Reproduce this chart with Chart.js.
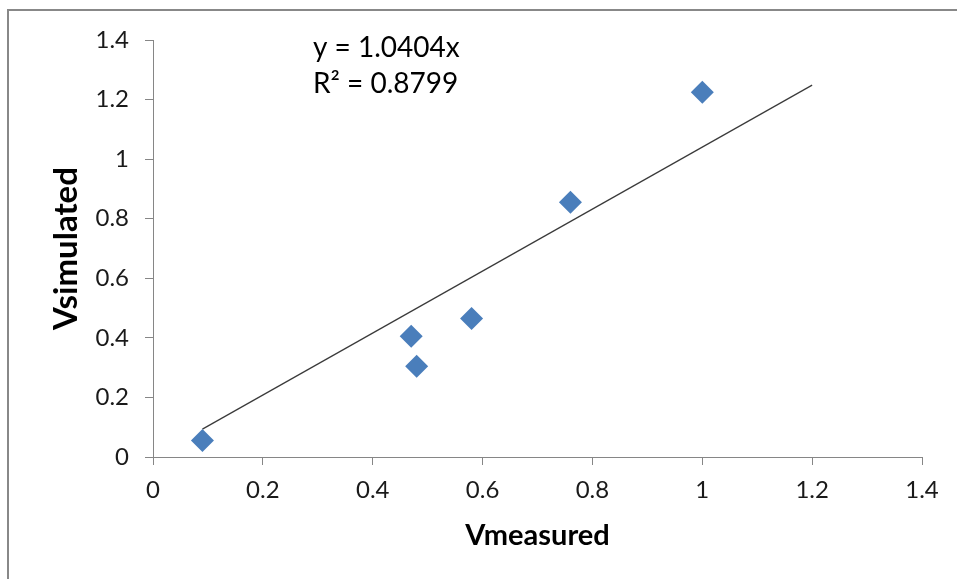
<!DOCTYPE html>
<html>
<head>
<meta charset="utf-8">
<script src="https://cdn.jsdelivr.net/npm/chart.js@4"></script>
<style>
  html, body { margin: 0; padding: 0; background: #fff; }
  #wrap { position: relative; width: 957px; height: 579px; }
  #frame { position: absolute; left: 7px; top: 9px; width: 960px; height: 580px;
           border-left: 2px solid #888; border-top: 2px solid #888; }
  canvas { position: absolute; left: 0; top: 0; }
</style>
</head>
<body>
<div id="wrap">
  <div id="frame"></div>
  <canvas id="chart" width="957" height="579"></canvas>
</div>
<script>
// measured vs simulated values
const vMeasured = [0.09, 0.47, 0.48, 0.58, 0.76, 1.0];
const vSimulated = [0.055, 0.405, 0.305, 0.465, 0.855, 1.225];

// linear trend through origin, as printed on the chart
const slope = 1.0404;
const trendX = [0.09, 1.2];
const equationLines = ['y = 1.0404x', 'R² = 0.8799'];

const xTitle = 'Vmeasured';
const yTitle = 'Vsimulated';

const FONT = 'Lato, "Liberation Sans", sans-serif';

const points = vMeasured.map((x, i) => ({ x: x, y: vSimulated[i] }));
const trend = trendX.map(x => ({ x: x, y: slope * x }));

// axis titles and trend equation, drawn on the canvas
const labelsPlugin = {
    id: 'labels',
    afterDraw(chart) {
        const { ctx, chartArea } = chart;
        ctx.save();
        ctx.fillStyle = '#000';
        ctx.font = 'bold 29px ' + FONT;
        ctx.textAlign = 'center';
        ctx.textBaseline = 'middle';
        ctx.fillText(xTitle, (chartArea.left + chartArea.right) / 2, 536);

        ctx.font = 'bold 33px ' + FONT;
        ctx.translate(66, (chartArea.top + chartArea.bottom) / 2);
        ctx.rotate(-Math.PI / 2);
        ctx.fillText(yTitle, 0, 0);
        ctx.restore();

        ctx.save();
        ctx.fillStyle = '#000';
        ctx.font = '28px ' + FONT;
        ctx.textAlign = 'left';
        ctx.textBaseline = 'alphabetic';
        equationLines.forEach((line, i) => {
            ctx.fillText(line, 313, 57 + i * 36);
        });
        ctx.restore();
    }
};

new Chart(document.getElementById('chart'), {
    type: 'scatter',
    data: {
        datasets: [
            {
                label: 'data',
                data: points,
                pointStyle: 'rectRot',
                pointRadius: 11.5,
                pointHoverRadius: 11.5,
                backgroundColor: '#4A7EBB',
                borderColor: '#4A7EBB',
                borderWidth: 0,
                order: 1
            },
            {
                label: 'trend',
                type: 'line',
                data: trend,
                borderColor: '#3a3a3a',
                borderWidth: 1.2,
                pointRadius: 0,
                fill: false,
                order: 2
            }
        ]
    },
    options: {
        responsive: false,
        animation: false,
        events: [],
        layout: { padding: { top: 40, right: 35, left: 0, bottom: 0 } },
        plugins: {
            legend: { display: false },
            tooltip: { enabled: false }
        },
        scales: {
            x: {
                type: 'linear',
                min: 0,
                max: 1.4,
                afterFit: s => { s.height = 122; },
                ticks: {
                    stepSize: 0.2,
                    color: '#1a1a1a',
                    padding: 11,
                    font: { family: FONT, size: 24 },
                    callback: v => Math.round(v * 10) / 10
                },
                grid: { drawOnChartArea: false, drawTicks: true, tickLength: 8, color: '#868686' },
                border: { color: '#868686', width: 1 }
            },
            y: {
                min: 0,
                max: 1.4,
                afterFit: s => { s.width = 153; },
                ticks: {
                    stepSize: 0.2,
                    color: '#1a1a1a',
                    padding: 16,
                    font: { family: FONT, size: 24 },
                    callback: v => Math.round(v * 10) / 10
                },
                grid: { drawOnChartArea: false, drawTicks: true, tickLength: 8, color: '#868686' },
                border: { color: '#868686', width: 1 }
            }
        }
    },
    plugins: [labelsPlugin]
});
</script>
</body>
</html>
